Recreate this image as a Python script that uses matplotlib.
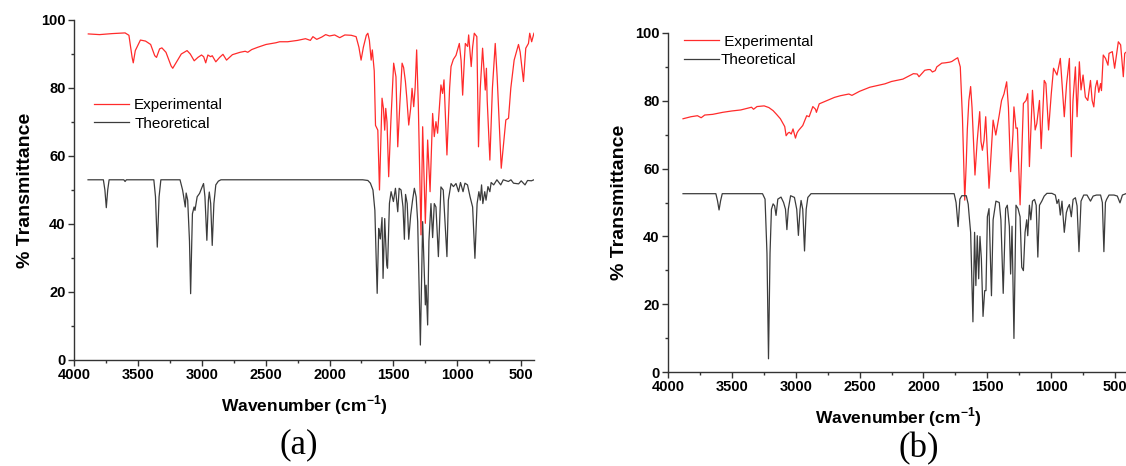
import matplotlib
matplotlib.use('Agg')
import matplotlib.pyplot as plt
from matplotlib.ticker import MultipleLocator

plt.rcParams['font.family'] = ['Liberation Sans', 'DejaVu Sans']
plt.rcParams['mathtext.fontset'] = 'custom'
plt.rcParams['mathtext.rm'] = 'Liberation Sans'
plt.rcParams['mathtext.bf'] = 'Liberation Sans:bold'

# ---- panel (a) ----
a_exp_wn = [3888, 3800, 3700, 3600, 3570, 3545, 3536, 3520, 3480, 3440, 3400, 3368, 3354,
            3330, 3312, 3280, 3240, 3227, 3200, 3160, 3115, 3090, 3059, 3030, 3002, 2985,
            2969, 2952, 2930, 2918, 2890, 2860, 2834, 2806, 2760, 2700, 2660, 2640, 2609,
            2560, 2497, 2420, 2390, 2328, 2250, 2188, 2150, 2130, 2100, 2060, 2030, 2000,
            1960, 1920, 1880, 1830, 1792, 1770, 1753, 1735, 1712, 1700, 1688, 1674, 1665,
            1650, 1640, 1622, 1609, 1598, 1589, 1578, 1568, 1560, 1550, 1537, 1520, 1498,
            1480, 1466, 1450, 1432, 1420, 1406, 1395, 1380, 1365, 1354, 1341, 1330, 1318,
            1305, 1284, 1271, 1250, 1232, 1213, 1193, 1180, 1167, 1154, 1128, 1115, 1104,
            1081, 1060, 1049, 1031, 1010, 984, 970, 958, 945, 937, 919, 911, 891, 880, 867,
            847, 834, 820, 802, 781, 772, 766, 745, 725, 703, 688, 656, 620, 599, 581, 555,
            521, 508, 482, 464, 443, 433, 418, 400]
a_exp_t = [95.9, 95.7, 96.0, 96.2, 95.5, 89.0, 87.4, 91.0, 94.1, 93.8, 92.8, 89.5, 89.0,
           91.5, 91.8, 90.5, 86.5, 85.8, 87.5, 90.0, 91.0, 90.0, 88.0, 89.0, 89.7, 89.2,
           87.4, 89.7, 89.2, 89.5, 87.7, 89.0, 89.9, 88.2, 89.8, 90.5, 90.8, 90.5, 91.3,
           92.0, 92.8, 93.3, 93.6, 93.6, 94.0, 94.5, 94.0, 95.1, 94.3, 95.0, 95.7, 95.3,
           95.6, 94.8, 95.6, 95.5, 95.1, 92.0, 88.2, 92.0, 95.5, 96.1, 94.0, 88.2, 91.2,
           85.0, 69.0, 67.6, 50.0, 65.0, 77.0, 74.0, 67.6, 74.0, 70.0, 53.9, 70.0, 87.3,
           83.3, 62.7, 75.0, 87.3, 86.0, 81.9, 77.0, 69.1, 74.0, 79.9, 74.5, 80.0, 91.2,
           75.0, 36.8, 68.6, 40.2, 64.7, 49.5, 72.5, 65.7, 70.1, 66.7, 80.9, 78.4, 82.4,
           60.3, 80.0, 86.3, 88.4, 89.6, 93.1, 88.0, 77.9, 88.0, 93.1, 92.2, 95.6, 86.3,
           92.0, 96.1, 95.1, 62.7, 80.0, 91.7, 79.4, 85.8, 76.5, 58.8, 80.0, 93.1, 83.3,
           56.4, 70.6, 71.1, 80.0, 88.2, 92.8, 90.6, 81.9, 91.7, 93.1, 96.1, 93.6, 96.1]

a_th_wn = [3890, 3770, 3758, 3747, 3736, 3725, 3610, 3600, 3590, 3375, 3362, 3348, 3334,
           3320, 3170, 3150, 3143, 3129, 3122, 3110, 3096, 3087, 3078, 3073, 3060, 3053,
           3036, 3017, 2997, 2986, 2975, 2960, 2948, 2941, 2930, 2918, 2905, 2890, 2870,
           2850, 1740, 1700, 1680, 1660, 1645, 1635, 1627, 1615, 1608, 1602, 1589, 1581,
           1568, 1555, 1552, 1546, 1531, 1518, 1500, 1484, 1466, 1455, 1440, 1425, 1414,
           1405, 1392, 1380, 1365, 1350, 1336, 1322, 1310, 1289, 1271, 1262, 1250, 1244,
           1232, 1222, 1206, 1193, 1180, 1167, 1148, 1128, 1110, 1081, 1070, 1049, 1030,
           1010, 990, 975, 955, 940, 920, 900, 880, 862, 845, 831, 820, 810, 800, 785, 775,
           760, 745, 735, 715, 690, 660, 640, 600, 580, 560, 520, 500, 470, 450, 420, 400]
a_th_t = [53.0, 53.0, 50.0, 44.8, 50.0, 53.0, 53.0, 52.5, 53.0, 53.0, 48.0, 33.2, 48.0,
          53.0, 53.0, 50.0, 48.4, 45.0, 49.1, 47.0, 35.0, 19.5, 35.0, 43.0, 45.0, 44.0,
          48.0, 49.0, 50.9, 51.9, 48.0, 35.2, 47.0, 49.4, 46.0, 33.7, 46.0, 51.5, 52.6,
          53.0, 53.0, 52.8, 52.0, 50.0, 44.0, 30.0, 19.6, 38.7, 37.0, 35.6, 41.9, 24.0,
          41.6, 30.0, 27.9, 27.0, 46.1, 49.5, 46.6, 50.5, 43.6, 50.5, 50.0, 45.0, 35.5,
          48.7, 46.0, 35.5, 42.5, 47.0, 50.5, 48.0, 40.7, 4.4, 40.7, 30.0, 16.2, 22.0,
          10.3, 35.0, 46.0, 36.0, 46.0, 45.0, 30.4, 50.9, 50.0, 30.4, 47.0, 51.9, 51.0,
          51.9, 49.5, 52.2, 49.5, 52.0, 51.5, 48.0, 45.0, 29.9, 46.0, 49.5, 47.0, 51.5,
          46.0, 49.5, 47.0, 51.0, 49.5, 52.2, 51.5, 53.0, 51.5, 53.0, 52.5, 53.0, 52.0,
          51.8, 52.7, 51.5, 52.8, 52.7, 53.0]

# ---- panel (b) ----
b_exp_wn = [3882, 3820, 3769, 3740, 3712, 3650, 3571, 3500, 3430, 3346, 3330, 3303, 3247,
            3210, 3177, 3150, 3120, 3086, 3075, 3060, 3050, 3035, 3021, 3002, 2990, 2979,
            2945, 2914, 2895, 2866, 2845, 2838, 2816, 2760, 2697, 2650, 2584, 2560, 2500,
            2420, 2302, 2250, 2161, 2079, 2049, 2035, 1990, 1964, 1947, 1930, 1908, 1896,
            1857, 1830, 1795, 1778, 1750, 1732, 1712, 1695, 1677, 1665, 1657, 1645, 1631,
            1620, 1597, 1580, 1560, 1550, 1539, 1526, 1513, 1500, 1487, 1470, 1455, 1434,
            1407, 1389, 1370, 1349, 1335, 1318, 1300, 1292, 1276, 1265, 1244, 1230, 1218,
            1197, 1184, 1171, 1147, 1126, 1113, 1092, 1079, 1055, 1042, 1021, 1000, 982,
            955, 929, 898, 880, 858, 843, 830, 811, 798, 780, 767, 751, 733, 714, 693, 680,
            667, 654, 641, 628, 614, 607, 593, 575, 556, 548, 522, 504, 475, 457, 436, 425,
            409]
b_exp_t = [74.7, 75.3, 75.6, 75.0, 75.8, 76.0, 76.6, 77.0, 77.3, 78.1, 77.5, 78.3, 78.5,
           78.0, 77.1, 76.0, 74.7, 72.4, 69.7, 70.5, 70.7, 70.2, 71.7, 69.0, 70.5, 71.2,
           72.7, 75.6, 75.3, 78.3, 77.5, 76.6, 79.1, 80.0, 81.0, 81.5, 82.0, 81.6, 82.8,
           84.0, 85.0, 85.7, 86.4, 88.0, 87.9, 87.1, 89.0, 89.2, 89.2, 88.5, 88.9, 90.0,
           91.1, 91.2, 91.4, 91.6, 92.3, 92.7, 90.0, 75.0, 50.7, 62.0, 71.5, 80.0, 84.2,
           78.0, 58.1, 68.0, 76.8, 68.0, 65.4, 68.4, 75.3, 65.0, 54.2, 65.0, 74.3, 69.9,
           75.8, 80.1, 82.0, 85.6, 78.0, 59.1, 70.0, 78.2, 71.9, 72.0, 49.3, 65.0, 79.2,
           80.1, 82.1, 60.6, 83.1, 71.4, 73.3, 80.1, 65.9, 86.0, 85.1, 71.4, 82.0, 89.6,
           87.6, 92.5, 75.3, 85.0, 92.5, 63.5, 80.0, 90.0, 75.3, 91.5, 83.2, 87.6, 81.1,
           80.1, 86.0, 80.1, 78.2, 84.0, 86.0, 82.5, 85.1, 83.0, 93.5, 92.5, 90.5, 94.0,
           94.5, 89.6, 97.4, 96.5, 87.1, 94.0, 94.5]

b_th_wn = [3882, 3625, 3612, 3600, 3588, 3575, 3260, 3240, 3225, 3213, 3201, 3190, 3177,
           3165, 3154, 3140, 3115, 3095, 3080, 3069, 3058, 3040, 3010, 2992, 2979, 2966,
           2958, 2945, 2931, 2918, 2905, 2880, 1760, 1745, 1729, 1715, 1700, 1665, 1650,
           1640, 1631, 1613, 1600, 1590, 1579, 1568, 1558, 1547, 1534, 1521, 1511, 1500,
           1487, 1468, 1455, 1433, 1407, 1394, 1376, 1357, 1344, 1328, 1318, 1307, 1292,
           1276, 1260, 1244, 1231, 1218, 1205, 1192, 1184, 1171, 1160, 1147, 1131, 1118,
           1105, 1092, 1074, 1055, 1034, 995, 968, 955, 942, 929, 916, 898, 882, 871, 858,
           843, 829, 811, 798, 783, 767, 746, 720, 693, 672, 646, 614, 600, 588, 576, 567,
           548, 509, 483, 462, 443, 409]
b_th_t = [52.6, 52.6, 50.5, 47.8, 50.5, 52.6, 52.6, 51.0, 35.0, 3.9, 35.0, 48.0, 49.6,
          49.0, 46.2, 51.0, 51.6, 50.0, 48.0, 42.0, 48.0, 52.0, 51.5, 48.0, 40.3, 48.0,
          50.6, 48.0, 35.7, 48.0, 51.5, 52.6, 52.6, 50.0, 42.9, 51.0, 52.0, 52.0, 49.5,
          45.0, 41.2, 14.8, 41.2, 25.5, 40.2, 27.5, 40.0, 33.4, 16.4, 24.0, 24.0, 45.8,
          48.2, 22.5, 44.9, 50.4, 50.0, 44.9, 23.2, 48.2, 49.2, 43.0, 28.9, 43.0, 9.9,
          49.2, 48.2, 45.8, 30.9, 29.9, 41.2, 44.9, 40.2, 49.2, 44.9, 50.4, 50.9, 49.2,
          33.9, 49.2, 50.4, 51.9, 52.7, 52.7, 52.2, 49.7, 50.9, 46.3, 50.4, 41.2, 47.0,
          48.4, 49.4, 45.8, 50.9, 51.4, 49.0, 35.5, 50.4, 52.2, 52.2, 50.4, 51.9, 52.2,
          52.2, 50.0, 35.5, 50.0, 50.9, 52.2, 52.2, 51.9, 49.9, 52.2, 52.7]

RED = '#ff2b2b'
DARK = '#3c3c3c'

fig = plt.figure(figsize=(11.26, 4.66), dpi=100)
ax_a = fig.add_axes([0.0657, 0.2275, 0.4085, 0.7296])
ax_b = fig.add_axes([0.5932, 0.2017, 0.4085, 0.7275])


def style(ax):
    ax.set_xlim(4000, 400)
    ax.set_ylim(0, 100)
    ax.xaxis.set_major_locator(MultipleLocator(500))
    ax.xaxis.set_minor_locator(MultipleLocator(250))
    ax.yaxis.set_major_locator(MultipleLocator(20))
    ax.yaxis.set_minor_locator(MultipleLocator(10))
    for s in ('top', 'right'):
        ax.spines[s].set_visible(False)
    for s in ('left', 'bottom'):
        ax.spines[s].set_linewidth(1.0)
        ax.spines[s].set_color('#333333')
    ax.tick_params(which='major', length=4, width=1.0, color='#333333',
                   labelsize=10.5, pad=2)
    ax.tick_params(which='minor', length=2.5, width=1.0, color='#333333')
    for lab in ax.get_xticklabels() + ax.get_yticklabels():
        lab.set_fontweight('bold')
    ax.set_xlabel(r'Wavenumber (cm$^{\mathbf{-1}}$)', fontsize=12.5,
                  fontweight='bold', labelpad=8)
    ax.set_ylabel('% Transmittance', fontsize=14, fontweight='bold', labelpad=5)


for ax, ew, et, tw, tt in [(ax_a, a_exp_wn, a_exp_t, a_th_wn, a_th_t),
                           (ax_b, b_exp_wn, b_exp_t, b_th_wn, b_th_t)]:
    ax.plot(ew, et, color=RED, lw=0.9, label='Experimental')
    ax.plot(tw, tt, color=DARK, lw=0.9, label='Theoretical')
    style(ax)

ax_a.legend(loc='upper left', bbox_to_anchor=(0.043, 0.77), frameon=False,
            fontsize=11, handlelength=2.3, handletextpad=0.35, labelspacing=0.3,
            borderpad=0, borderaxespad=0)
hb = ax_b.get_legend_handles_labels()[0]
ax_b.legend(hb, [' Experimental', 'Theoretical'], loc='upper left',
            bbox_to_anchor=(0.034, 0.995), frameon=False, fontsize=11,
            handlelength=2.3, handletextpad=0.1, labelspacing=0.3,
            borderpad=0, borderaxespad=0)

fig.text(0.265, 0.045, '(a)', fontsize=25, family='Liberation Serif',
         ha='center', va='center')
fig.text(0.816, 0.038, '(b)', fontsize=25, family='Liberation Serif',
         ha='center', va='center')

fig.savefig('out.png', dpi=100)
